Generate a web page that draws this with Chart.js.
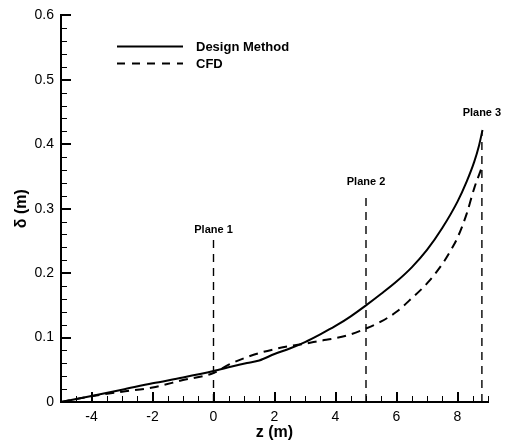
<!DOCTYPE html>
<html>
<head>
<meta charset="utf-8">
<script src="https://cdn.jsdelivr.net/npm/chart.js@4.4.1/dist/chart.umd.min.js"></script>
<style>
  html, body { margin: 0; padding: 0; background: #fff; }
  #wrap { width: 505px; height: 442px; }
</style>
</head>
<body>
<div id="wrap"><canvas id="c" width="505" height="442"></canvas></div>
<script>
// Boundary-layer thickness along the duct
const designZ = [-5, -4, -3, -2, -1, 0, 0.6, 1.1, 1.5, 2, 2.5, 3, 3.5, 4, 4.5, 5, 5.5, 6, 6.5, 7, 7.5, 8, 8.3, 8.55, 8.7, 8.82];
const designDelta = [0, 0.0093, 0.019, 0.029, 0.038, 0.048, 0.055, 0.0605, 0.0645, 0.0745, 0.083, 0.093, 0.105, 0.118, 0.133, 0.150, 0.168, 0.187, 0.209, 0.236, 0.270, 0.311, 0.342, 0.373, 0.397, 0.422];

const cfdZ = [-5, -4, -3, -2, -1, 0, 0.5, 1, 1.5, 2, 2.5, 3, 3.5, 4, 4.5, 5, 5.5, 6, 6.5, 7, 7.5, 7.8, 8, 8.3, 8.55, 8.78];
const cfdDelta = [0, 0.009, 0.016, 0.0225, 0.034, 0.045, 0.058, 0.068, 0.076, 0.082, 0.087, 0.0905, 0.095, 0.099, 0.105, 0.114, 0.125, 0.140, 0.161, 0.184, 0.214, 0.237, 0.255, 0.292, 0.332, 0.362];

// Measurement planes: location, marker line height and caption height
const planeNames = ['Plane 1', 'Plane 2', 'Plane 3'];
const planeZ = [0, 5, 8.8];
const planeTop = [0.253, 0.319, 0.42];
const planeCaption = [0.267, 0.342, 0.449];

const seriesNames = ['Design Method', 'CFD'];
const xTickValues = [-4, -2, 0, 2, 4, 6, 8];
const yTickValues = [0, 0.1, 0.2, 0.3, 0.4, 0.5, 0.6];

const FONT = '"Liberation Sans", Arial, sans-serif';
const pts = (xs, ys) => xs.map((x, i) => ({ x: x, y: ys[i] }));

const planeSets = planeZ.map((z, i) => ({
  label: planeNames[i],
  data: [{ x: z, y: 0 }, { x: z, y: planeTop[i] }],
  borderColor: '#000',
  borderWidth: 1.4,
  borderDash: [8, 6],
  pointRadius: 0,
  tension: 0
}));

// Inward major/minor ticks, plane captions and legend
const decorations = {
  id: 'decorations',
  afterDatasetsDraw(chart) {
    const ctx = chart.ctx;
    const xs = chart.scales.x, ys = chart.scales.y;
    const a = chart.chartArea;
    ctx.save();
    ctx.strokeStyle = '#000';
    const tick = (x1, y1, x2, y2, w) => {
      ctx.lineWidth = w;
      ctx.beginPath();
      ctx.moveTo(x1, y1);
      ctx.lineTo(x2, y2);
      ctx.stroke();
    };
    for (let k = -10; k <= 18; k++) {
      const v = k / 2;
      const major = k % 4 === 0;
      const px = Math.round(xs.getPixelForValue(v)) + (major ? 0 : 0.5);
      tick(px, a.bottom, px, a.bottom - (major ? 10 : 6), major ? 2 : 1);
    }
    for (let k = 0; k <= 30; k++) {
      const v = k * 0.02;
      const major = k % 5 === 0;
      const py = Math.round(ys.getPixelForValue(v)) + (major ? 0 : 0.5);
      tick(a.left, py, a.left + (major ? 10 : 6), py, major ? 2 : 1);
    }

    // plane captions
    ctx.fillStyle = '#000';
    ctx.font = 'bold 11px ' + FONT;
    ctx.textAlign = 'center';
    ctx.textBaseline = 'middle';
    planeZ.forEach((z, i) => {
      ctx.fillText(planeNames[i], xs.getPixelForValue(z), ys.getPixelForValue(planeCaption[i]));
    });

    // legend
    ctx.lineWidth = 2;
    ctx.beginPath();
    ctx.moveTo(117, 46.5); ctx.lineTo(183, 46.5);
    ctx.stroke();
    ctx.setLineDash([8, 7]);
    ctx.beginPath();
    ctx.moveTo(117, 63.5); ctx.lineTo(183, 63.5);
    ctx.stroke();
    ctx.setLineDash([]);
    ctx.font = 'bold 13px ' + FONT;
    ctx.textAlign = 'left';
    ctx.fillText(seriesNames[0], 196, 47);
    ctx.fillText(seriesNames[1], 196, 64);
    ctx.restore();
  }
};

new Chart(document.getElementById('c'), {
  type: 'line',
  data: {
    datasets: [
      {
        label: seriesNames[0],
        data: pts(designZ, designDelta),
        borderColor: '#000',
        borderWidth: 2,
        pointRadius: 0,
        cubicInterpolationMode: 'monotone'
      },
      {
        label: seriesNames[1],
        data: pts(cfdZ, cfdDelta),
        borderColor: '#000',
        borderWidth: 2,
        borderDash: [9, 6],
        pointRadius: 0,
        cubicInterpolationMode: 'monotone'
      },
      ...planeSets
    ]
  },
  options: {
    responsive: false,
    animation: false,
    devicePixelRatio: 1,
    layout: { padding: { top: 13, right: 17, left: 0, bottom: 0 } },
    plugins: { legend: { display: false }, tooltip: { enabled: false } },
    scales: {
      x: {
        type: 'linear',
        min: -5,
        max: 9,
        afterBuildTicks(s) { s.ticks = xTickValues.map(v => ({ value: v })); },
        afterFit(s) { s.height = 40; },
        grid: { display: false, drawTicks: false },
        border: { display: true, color: '#000', width: 2 },
        ticks: {
          color: '#000',
          font: { family: FONT, size: 14 },
          padding: 7,
          maxRotation: 0,
          autoSkip: false,
          callback: v => String(v)
        },
        title: {
          display: true,
          text: 'z (m)',
          color: '#000',
          font: { family: FONT, size: 16, weight: 'bold' },
          padding: { top: 0, bottom: 0 }
        }
      },
      y: {
        type: 'linear',
        min: 0,
        max: 0.6,
        afterBuildTicks(s) { s.ticks = yTickValues.map(v => ({ value: v })); },
        afterFit(s) { s.width = 61; },
        grid: { display: false, drawTicks: false },
        border: { display: true, color: '#000', width: 2 },
        ticks: {
          color: '#000',
          font: { family: FONT, size: 14 },
          padding: 7,
          autoSkip: false,
          callback: v => (v === 0 ? '0' : v.toFixed(1))
        },
        title: {
          display: true,
          text: 'δ (m)',
          color: '#000',
          font: { family: FONT, size: 16, weight: 'bold' },
          padding: { top: 12, bottom: 0 }
        }
      }
    }
  },
  plugins: [decorations]
});
</script>
</body>
</html>
